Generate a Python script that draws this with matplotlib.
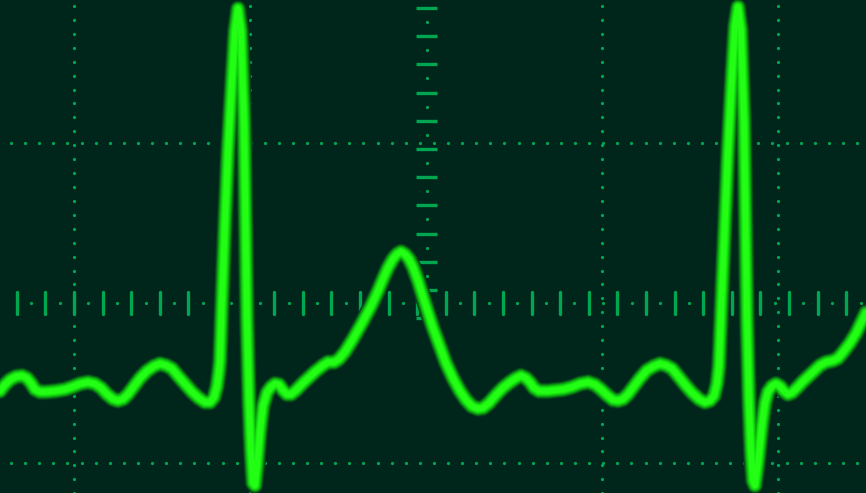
import numpy as np
import matplotlib
matplotlib.use('Agg')
from matplotlib import pyplot as plt

# ECG trace: time in ms (176 ms per division), amplitude in mV (1 mV per division)
t_ms = [0, 5, 10, 16, 22, 27, 31, 35, 40, 46, 55, 65, 72, 80, 88, 95, 101, 107, 113, 118,
        123, 128, 134, 140, 147, 154, 160, 166, 172, 178, 185, 192, 199, 205, 210, 214, 217, 219, 220, 222,
        225, 228, 232, 235, 238, 241, 244, 246, 247, 249, 251, 253, 255, 257, 260, 263, 267, 271, 275, 279,
        283, 287, 291, 296, 303, 315, 323, 328, 334, 339, 345, 353, 362, 371, 378, 383, 388, 393, 397, 401,
        405, 409, 413, 418, 423, 433, 446, 453, 460, 466, 472, 478, 483, 489, 496, 503, 510, 516, 521, 526,
        530, 534, 539, 548, 555, 563, 572, 580, 588, 595, 601, 607, 613, 618, 623, 628, 634, 640, 647, 654,
        660, 666, 672, 678, 685, 692, 699, 705, 710, 714, 717, 719, 720, 722, 725, 728, 732, 735, 738, 741,
        744, 746, 747, 749, 751, 753, 755, 758, 762, 765, 768, 772, 776, 780, 784, 788, 792, 797, 803, 814,
        820, 826, 833, 838, 844, 850, 856, 861, 866]
v_mv = [-0.55, -0.51, -0.48, -0.46, -0.455, -0.47, -0.50, -0.54, -0.555, -0.555, -0.55, -0.54, -0.525, -0.505, -0.495, -0.505, -0.53, -0.57, -0.60, -0.61,
        -0.60, -0.57, -0.52, -0.47, -0.425, -0.395, -0.38, -0.39, -0.41, -0.455, -0.505, -0.555, -0.595, -0.62, -0.62, -0.59, -0.52, -0.425, -0.36, 0.01,
        0.51, 0.95, 1.39, 1.70, 1.84, 1.70, 1.14, 0.325, -0.11, -0.61, -0.925, -1.125, -1.14, -1.02, -0.80, -0.645, -0.56, -0.525, -0.505, -0.51,
        -0.545, -0.57, -0.57, -0.545, -0.50, -0.43, -0.39, -0.37, -0.37, -0.35, -0.305, -0.225, -0.125, -0.02, 0.075, 0.15, 0.22, 0.275, 0.305, 0.32,
        0.305, 0.275, 0.225, 0.14, 0.04, -0.155, -0.375, -0.47, -0.55, -0.605, -0.645, -0.66, -0.655, -0.625, -0.575, -0.53, -0.495, -0.47, -0.455, -0.47,
        -0.495, -0.53, -0.55, -0.55, -0.545, -0.54, -0.525, -0.505, -0.495, -0.51, -0.54, -0.575, -0.605, -0.61, -0.60, -0.57, -0.52, -0.47, -0.42, -0.395,
        -0.38, -0.39, -0.41, -0.455, -0.51, -0.56, -0.60, -0.62, -0.61, -0.58, -0.505, -0.395, -0.24, 0.075, 0.51, 0.95, 1.42, 1.73, 1.85, 1.71,
        1.14, 0.325, -0.11, -0.61, -0.925, -1.11, -1.14, -1.00, -0.76, -0.625, -0.555, -0.52, -0.505, -0.52, -0.55, -0.57, -0.56, -0.53, -0.49, -0.425,
        -0.39, -0.37, -0.36, -0.345, -0.30, -0.25, -0.19, -0.125, -0.06]

bg = '#00261c'
grid_c = '#00a650'

fig = plt.figure(figsize=(8.66, 4.93), dpi=100, facecolor=bg)
ax = fig.add_axes([0, 0, 1, 1])
ax.set_facecolor(bg)
ax.set_xlim(0, 866)
ax.set_ylim(-190 / 160, 303 / 160)
ax.axis('off')

# dotted grid
div_t = 176
grid_t = [74 + div_t * k for k in range(5) if k != 2]
grid_v = [1, -1]
dot_x = np.arange(-3.1, 870, 14.1)
dot_y = 1.856 - 0.087 * np.arange(36)
for gv in grid_v:
    ax.plot(dot_x, np.full(len(dot_x), gv), 'o', color=grid_c, ms=2.3, mew=0, zorder=1)
for gt in grid_t:
    ax.plot(np.full(len(dot_y), gt), dot_y, 'o', color=grid_c, ms=2.3, mew=0, zorder=1)

# center axes with ticks
center_t = 426.6
dash_v = 1.844 - 0.17625 * np.arange(12)
ax.hlines(dash_v, center_t - 10.7, center_t + 10.7, color=grid_c, lw=2.4, zorder=1)
ax.plot(np.full(11, center_t), dash_v[:-1] - 0.17625 / 2, 'o', color=grid_c, ms=2.3, mew=0, zorder=1)
tick_t = 16.8 + 28.6 * np.arange(30)
ax.vlines(tick_t, -0.069, 0.066, color=grid_c, lw=2.4, capstyle='round', zorder=1)
ax.plot(tick_t + 14.3, np.zeros(len(tick_t)), 'o', color=grid_c, ms=2.3, mew=0, zorder=1)

# glowing trace
glow = [(12.0, '#04381a'), (10.8, '#075a16'), (9.6, '#0a8012'), (8.4, '#0ea810'),
        (7.0, '#13cc10'), (5.6, '#18ea10'), (4.0, '#22ff14')]
for lw, c in glow:
    ax.plot(t_ms, v_mv, color=c, lw=lw, solid_joinstyle='round', solid_capstyle='round', zorder=3)

plt.savefig('out.png', dpi=100, facecolor=bg)
